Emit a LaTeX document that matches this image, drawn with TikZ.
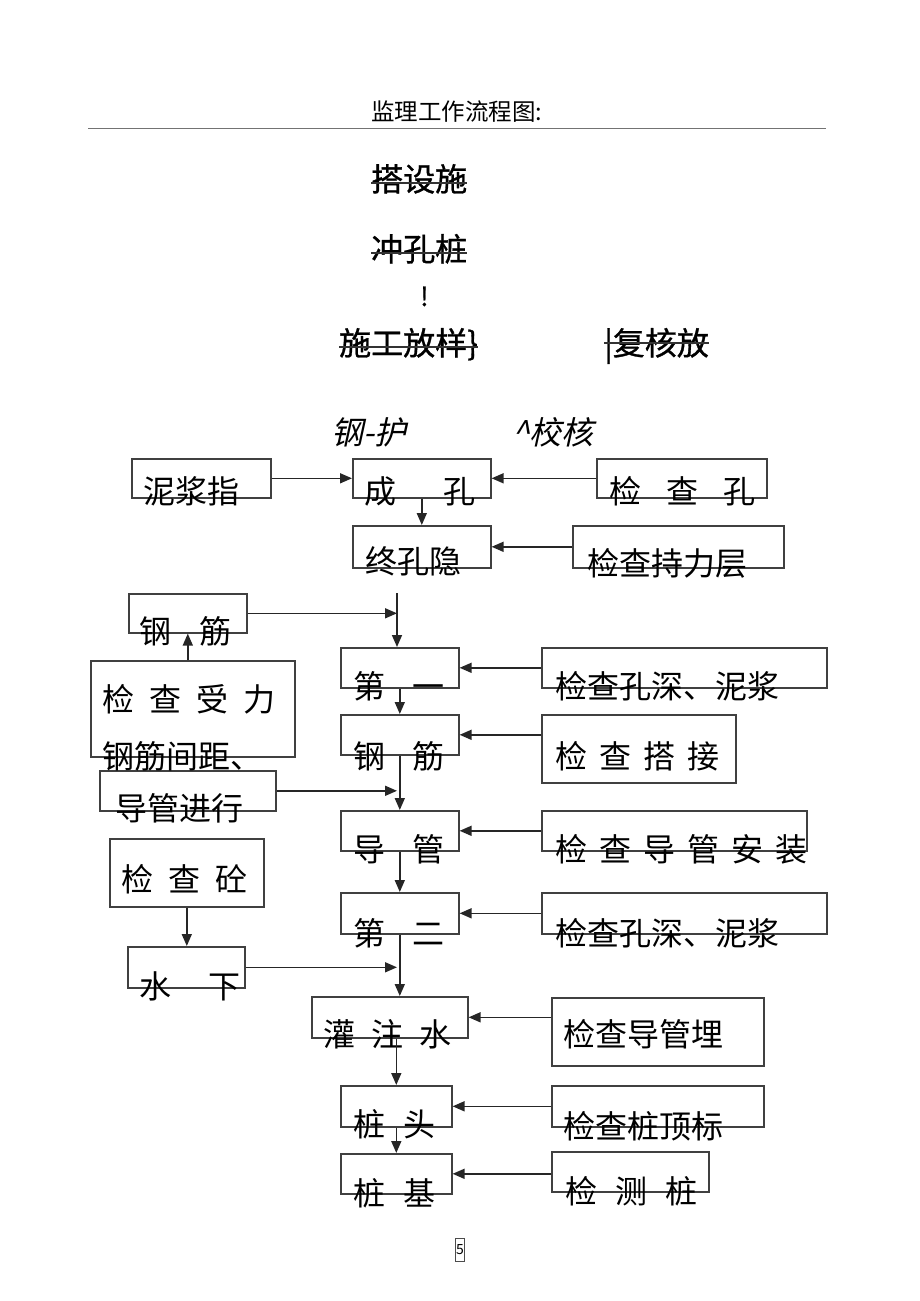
\documentclass[tikz,border=0pt]{standalone}
\usepackage{fontspec}
\setmainfont{Noto Sans CJK SC}
\newfontfamily\slantfont[FakeSlant=0.22]{Noto Sans CJK SC}
\newfontfamily\heavyfont[FakeBold=0.9]{Noto Sans CJK SC}
\usetikzlibrary{arrows.meta}

\tikzset{
	flowpicture/.style = {
		x = 1pt,
		y = -1pt,
		link/.style = {
			draw = black!85,
			line width = 1.6pt,
			-{Triangle[length=12pt, width=10pt]},
		}
	},
	stagebox/.style = {
		draw = black!75,
		line width = 1.6pt,
		inner sep = 0pt,
		anchor = north west
	},
	boxtext/.style = {
		inner sep = 0pt,
		anchor = base west,
		font = \fontsize{32pt}{34pt}\selectfont
	},
	headtext/.style = {
		boxtext,
		font = \fontsize{32pt}{34pt}\heavyfont
	},
	strike/.style = {
		draw = black!80,
		line width = 1.1pt
	}
}

\begin{document}
\begin{tikzpicture}[flowpicture]
	\useasboundingbox (0,0) rectangle (920,1301);

	% heading
	\node[boxtext, font=\fontsize{23.5pt}{25pt}\selectfont] (title) at (371,120) {监理工作流程图:};
	\draw[black!55, line width=0.8pt] (88,128) -- (826,128);

	\node[headtext] (dashe) at (371,191) {搭设施};
	\node[headtext] (chongkong) at (371,261) {冲孔桩};
	\node[headtext, font=\fontsize{26pt}{28pt}\heavyfont] (mark) at (420,306) {!};
	\node[headtext] (fangyang) at (339,355) {施工放样\}};
	\node[headtext] (fuhe) at (604,355) {|复核放};
	\node[boxtext, font=\fontsize{32pt}{34pt}\slantfont] (ganghu) at (331,444) {钢-护};
	\node[boxtext, font=\fontsize{32pt}{34pt}\slantfont] (jiaohe) at (512,444) {\^{}校核};
	\draw[strike] ([yshift=8pt]dashe.base west) -- ([yshift=8pt]dashe.base east);
	\draw[strike] ([yshift=8pt]chongkong.base west) -- ([yshift=8pt]chongkong.base east);
	\draw[strike] ([yshift=8pt]fangyang.base west) -- ([yshift=8pt]fangyang.base east);
	\draw[strike] ([yshift=12pt]fuhe.base west) -- ([yshift=12pt]fuhe.base east);

	% boxes
	\node[stagebox, minimum width=139pt, minimum height=39pt] (nijiang) at (131,458) {};
	\node[stagebox, minimum width=138pt, minimum height=39pt] (chengkong) at (352,458) {};
	\node[stagebox, minimum width=170pt, minimum height=39pt] (jiankong) at (596,458) {};
	\node[stagebox, minimum width=138pt, minimum height=42pt] (zhongkong) at (352,525) {};
	\node[stagebox, minimum width=211pt, minimum height=42pt] (chili) at (572,525) {};
	\node[stagebox, minimum width=118pt, minimum height=39pt] (gangjin-a) at (128,593) {};
	\node[stagebox, minimum width=118pt, minimum height=40pt] (diyi) at (340,647) {};
	\node[stagebox, minimum width=285pt, minimum height=40pt] (kongshen-a) at (541,647) {};
	\node[stagebox, minimum width=204pt, minimum height=96pt] (shouli) at (90,660) {};
	\node[stagebox, minimum width=118pt, minimum height=40pt] (gangjin-b) at (340,714) {};
	\node[stagebox, minimum width=194pt, minimum height=68pt] (dajie) at (541,714) {};
	\node[stagebox, minimum width=176pt, minimum height=40pt] (jinxing) at (99,770) {};
	\node[stagebox, minimum width=118pt, minimum height=40pt] (daoguan) at (340,810) {};
	\node[stagebox, minimum width=265pt, minimum height=40pt] (anzhuang) at (541,810) {};
	\node[stagebox, minimum width=154pt, minimum height=68pt] (tong) at (109,838) {};
	\node[stagebox, minimum width=118pt, minimum height=41pt] (dier) at (340,892) {};
	\node[stagebox, minimum width=285pt, minimum height=41pt] (kongshen-b) at (541,892) {};
	\node[stagebox, minimum width=117pt, minimum height=41pt] (shuixia) at (127,946) {};
	\node[stagebox, minimum width=156pt, minimum height=41pt] (guanzhu) at (311,996) {};
	\node[stagebox, minimum width=212pt, minimum height=68pt] (maishen) at (551,997) {};
	\node[stagebox, minimum width=111pt, minimum height=41pt] (zhuangtou) at (340,1085) {};
	\node[stagebox, minimum width=212pt, minimum height=41pt] (dingbiao) at (551,1085) {};
	\node[stagebox, minimum width=111pt, minimum height=40pt] (zhuangji) at (340,1153) {};
	\node[stagebox, minimum width=157pt, minimum height=40pt] (jiance) at (551,1151) {};

	% box texts
	\node[boxtext] (nijiang-t) at (143,503) {泥浆指};
	\node[boxtext] (chengkong-t) at (364,503) {成\hspace{47pt}孔};
	\node[boxtext] (jiankong-t) at (609,503) {检\hspace{25pt}查\hspace{25pt}孔};
	\node[boxtext] (zhongkong-t) at (365,573) {终孔隐};
	\node[boxtext] (chili-t) at (587,575) {检查持力层};
	\node[boxtext] (gangjin-a-t) at (139,643) {钢\hspace{28pt}筋};
	\node[boxtext] (diyi-t) at (353,698) {第\hspace{27pt}一};
	\node[boxtext] (kongshen-a-t) at (555,698) {检查孔深、泥浆};
	\node[boxtext] (shouli-t) at (102,711) {检\hspace{15pt}查\hspace{15pt}受\hspace{15pt}力};
	\node[boxtext] (jianju-t) at (102,768) {钢筋间距、};
	\node[boxtext] (gangjin-b-t) at (353,768) {钢\hspace{27pt}筋};
	\node[boxtext] (dajie-t) at (555,768) {检\hspace{12pt}查\hspace{12pt}搭\hspace{12pt}接};
	\node[boxtext] (jinxing-t) at (115,820) {导管进行};
	\node[boxtext] (daoguan-t) at (353,861) {导\hspace{27pt}管};
	\node[boxtext] (anzhuang-t) at (555,861) {检\hspace{12pt}查\hspace{12pt}导\hspace{12pt}管\hspace{12pt}安\hspace{12pt}装};
	\node[boxtext] (tong-t) at (121,891) {检\hspace{15pt}查\hspace{15pt}砼};
	\node[boxtext] (dier-t) at (353,945) {第\hspace{27pt}二};
	\node[boxtext] (kongshen-b-t) at (555,945) {检查孔深、泥浆};
	\node[boxtext] (shuixia-t) at (139,998) {水\hspace{37pt}下};
	\node[boxtext] (guanzhu-t) at (323,1046) {灌\hspace{16pt}注\hspace{16pt}水};
	\node[boxtext] (maishen-t) at (563,1046) {检查导管埋};
	\node[boxtext] (zhuangtou-t) at (353,1136) {桩\hspace{18pt}头};
	\node[boxtext] (dingbiao-t) at (563,1138) {检查桩顶标};
	\node[boxtext] (zhuangji-t) at (353,1205) {桩\hspace{18pt}基};
	\node[boxtext] (jiance-t) at (565,1203) {检\hspace{18pt}测\hspace{18pt}桩};

	% page number
	\node[draw=black!70, line width=0.7pt, inner xsep=0.5pt, minimum height=23pt, font=\fontsize{14pt}{15pt}\selectfont] (page) at (460,1250) {5};

	% connectors
	\coordinate (spine) at (397,593);
	\path[link] (nijiang.east) -- (chengkong.west);
	\path[link] (jiankong.west) -- (chengkong.east);
	\path[link] (chengkong.south) -- (zhongkong.north);
	\path[link] (chili.west) -- (zhongkong.east);
	\path[link] (spine) -- (spine |- diyi.north);
	\path[link] (gangjin-a.east) -- (gangjin-a.east -| spine);
	\path[link] (gangjin-a.south |- shouli.north) -- (gangjin-a.south);
	\path[link] (kongshen-a.west) -- (diyi.east);
	\path[link] (diyi.south) -- (gangjin-b.north);
	\path[link] (gangjin-b.east -| dajie.west) -- (gangjin-b.east);
	\path[link] (gangjin-b.south) -- (daoguan.north);
	\path[link] (jinxing.east) -- (jinxing.east -| spine);
	\path[link] (anzhuang.west) -- (daoguan.east);
	\path[link] (daoguan.south) -- (dier.north);
	\path[link] (kongshen-b.west) -- (dier.east);
	\path[link] (tong.south) -- (tong.south |- shuixia.north);
	\path[link] (shuixia.east) -- (shuixia.east -| spine);
	\path[link] (dier.south) -- (dier.south |- guanzhu.north);
	\path[link] (guanzhu.east -| maishen.west) -- (guanzhu.east);
	\path[link] (zhuangtou.north |- guanzhu.south) -- (zhuangtou.north);
	\path[link] (dingbiao.west) -- (zhuangtou.east);
	\path[link] (zhuangtou.south) -- (zhuangji.north);
	\path[link] (zhuangji.east -| jiance.west) -- (zhuangji.east);
\end{tikzpicture}
\end{document}
